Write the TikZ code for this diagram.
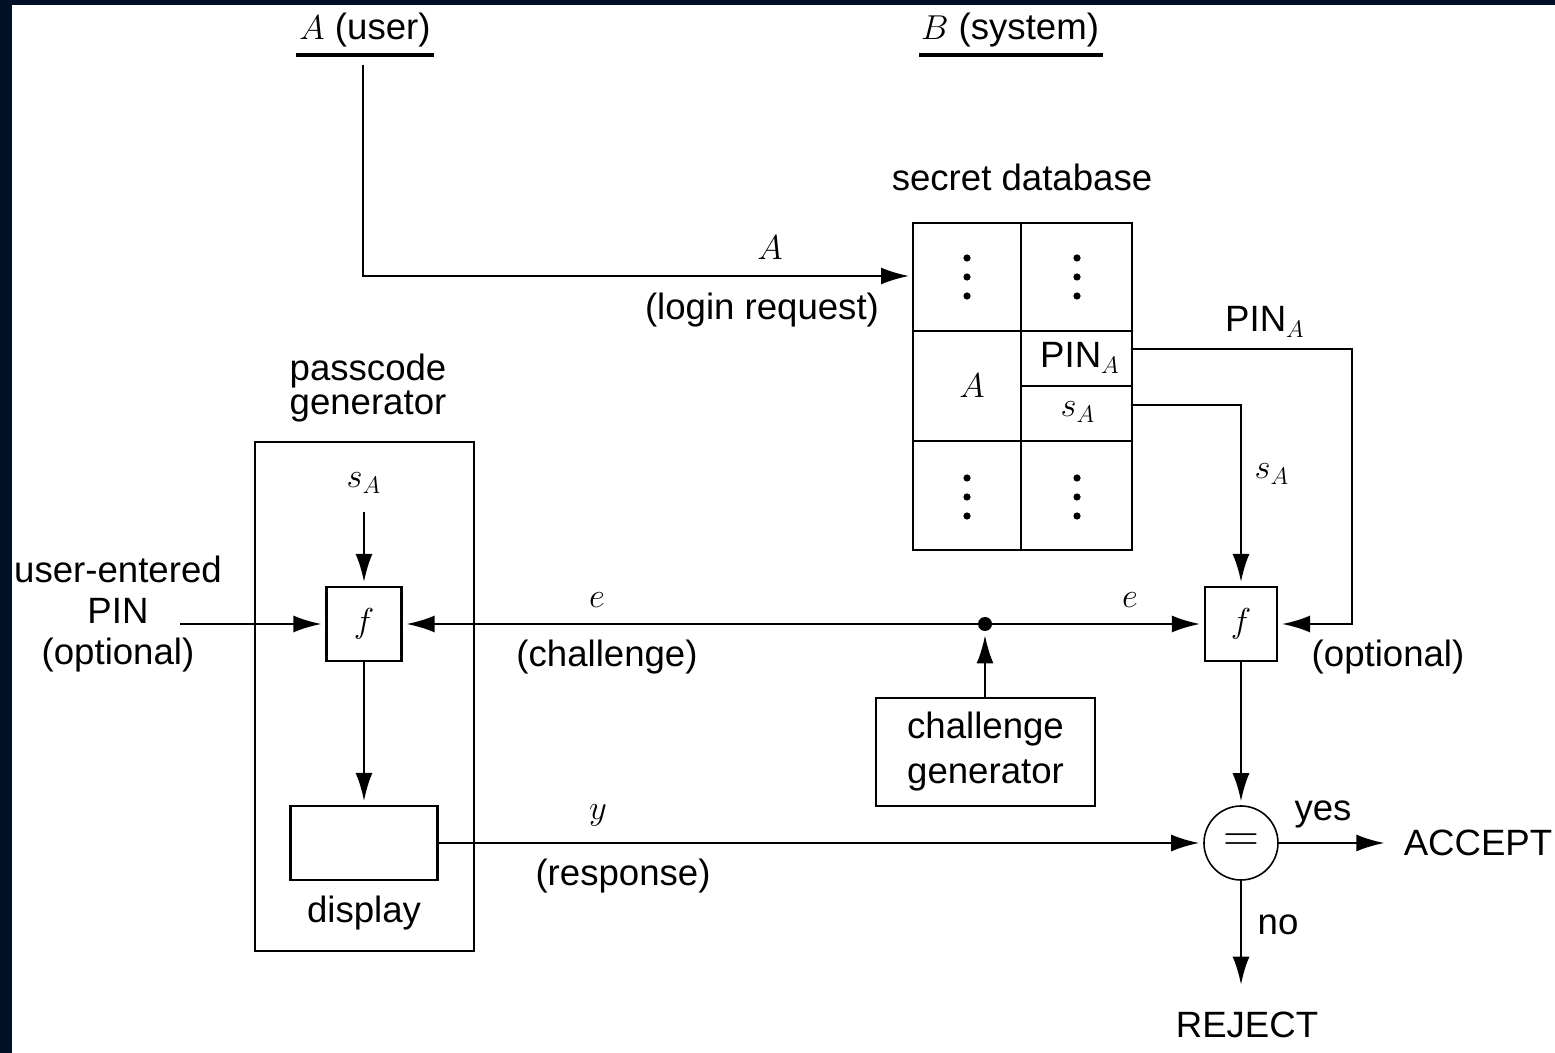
\documentclass[tikz,border=0pt]{standalone}
\usepackage{fontspec}
\setmainfont{Liberation Sans}
\usetikzlibrary{arrows.meta}
\definecolor{pageedge}{RGB}{0,16,38}
\begin{document}
\begin{tikzpicture}[x=0.5pt,y=-0.5pt,
  txt/.style={font=\fontsize{18.3}{21}\selectfont, inner sep=0pt},
  wire/.style={line width=1.1pt},
  arr/.style={wire, -{Latex[length=14pt,width=8.5pt]}, shorten >=2pt},
  blk/.style={draw, line width=1.1pt, inner sep=0pt, font=\fontsize{18.3}{21}\selectfont},
  dbdot/.style={circle, fill, inner sep=0pt, minimum size=3.6pt},
]
% page and dark edge
\fill[white] (0,0) rectangle (1555,1053);
\fill[pageedge] (0,0) rectangle (12,1053);
\fill[pageedge] (0,0) rectangle (1555,5);
\useasboundingbox (0,0) rectangle (1555,1053);

% parties
\node[txt] (user) at (365,30) {$A$ (user)};
\node[txt] (sys) at (1010,30) {$B$ (system)};
\draw[line width=1.8pt] (296,55) -- (434,55);
\draw[line width=1.8pt] (919,55) -- (1103,55);

% secret database
\node[txt] (sdb) at (1022,177) {secret database};
\node[blk, minimum width=109.5pt, minimum height=163.5pt] (db) at (1022.5,386.5) {};
\draw[wire] (1021,223) -- (1021,550);
\draw[wire] (913,331) -- (1132,331);
\draw[wire] (913,441) -- (1132,441);
\draw[wire] (1021,386) -- (1132,386);
\foreach \y in {258,277,296,478,497,516} {
  \node[dbdot] at (967,\y) {};
  \node[dbdot] at (1077,\y) {};
}
\node[txt] (dbA) at (972,386) {$A$};
\node[txt] (dbpin) at (1080,358) {PIN$_A$};
\node[txt] (dbs) at (1078,412) {$s_A$};

% login request
\coordinate (ustart) at (363,65);
\coordinate (dbin) at (913,276);
\draw[arr] (ustart) |- (dbin);
\node[txt] (lblA) at (770,248) {$A$};
\node[txt] (lblLogin) at (762,310) {(login request)};

% system side f
\node[blk, minimum width=36pt, minimum height=37pt] (fR) at (1241,624) {$f$};
\coordinate (pinout) at (1132,349);
\coordinate (pinturn) at (1352,349);
\coordinate (sout) at (1132,405);
\draw[arr] (pinout) -- (pinturn) |- (fR.east);
\draw[arr] (sout) -| (fR.north);
\node[txt] (lblpin) at (1265,322) {PIN$_A$};
\node[txt] (lbls) at (1272,474) {$s_A$};
\node[txt] (lblopt) at (1388,657) {(optional)};

% passcode generator
\node[txt, align=center, font=\fontsize{18.3}{17}\selectfont] (pglbl) at (368,388) {passcode\\generator};
\node[blk, minimum width=109.5pt, minimum height=254.5pt] (pg) at (364.5,696.5) {};
\node[txt] (sAL) at (364,483) {$s_A$};
\node[blk, minimum width=37.5pt, minimum height=37pt] (fL) at (364,624) {$f$};
\coordinate (sLtop) at (364,512);
\draw[arr] (sLtop) -- (fL.north);
\node[txt, align=center, font=\fontsize{18.3}{20.5}\selectfont] (pinlbl) at (118,614) {user-entered\\PIN\\(optional)};
\coordinate (pinin) at (180,624);
\draw[arr] (pinin) -- (fL.west);

% challenge
\node[circle, fill, inner sep=0pt, minimum size=7pt] (dot) at (985,624) {};
\draw[arr] (dot) -- (fL.east);
\draw[arr] (dot) -- (fR.west);
\node[txt] (e1) at (597,600) {$e$};
\node[txt] (chl) at (607,657) {(challenge)};
\node[txt] (e2) at (1130,600) {$e$};
\node[blk, minimum width=109.5pt, minimum height=54pt, align=center, font=\fontsize{18.3}{22.5}\selectfont] (cg) at (985.5,752) {challenge\\generator};
\draw[arr] (cg.north -| dot) -- (dot.south);

% display and response
\node[blk, minimum width=73.5pt, minimum height=37pt] (disp) at (364,843) {};
\node[txt] (displbl) at (364,913) {display};
\draw[arr] (fL.south) -- (disp.north);
\node[txt] (ylbl) at (598,815) {$y$};
\node[txt] (resp) at (623,876) {(response)};

% comparison
\node[circle, draw, line width=0.8pt, minimum size=37pt, inner sep=0pt, font=\fontsize{24}{28}\selectfont] (eq) at (1241,843) {$=$};
\draw[arr] (disp.east) -- (eq.west);
\draw[arr] (fR.south) -- (eq.north);
\node[txt] (acc) at (1478,843) {ACCEPT};
\node[txt] (rej) at (1247,1025) {REJECT};
\draw[arr, shorten >=9.5pt] (eq.east) -- (acc.west);
\draw[arr, shorten >=13.5pt] (eq.south) -- (eq.south |- rej.north);
\node[txt] (yes) at (1323,814) {yes};
\node[txt] (no) at (1278,925) {no};
\end{tikzpicture}
\end{document}
